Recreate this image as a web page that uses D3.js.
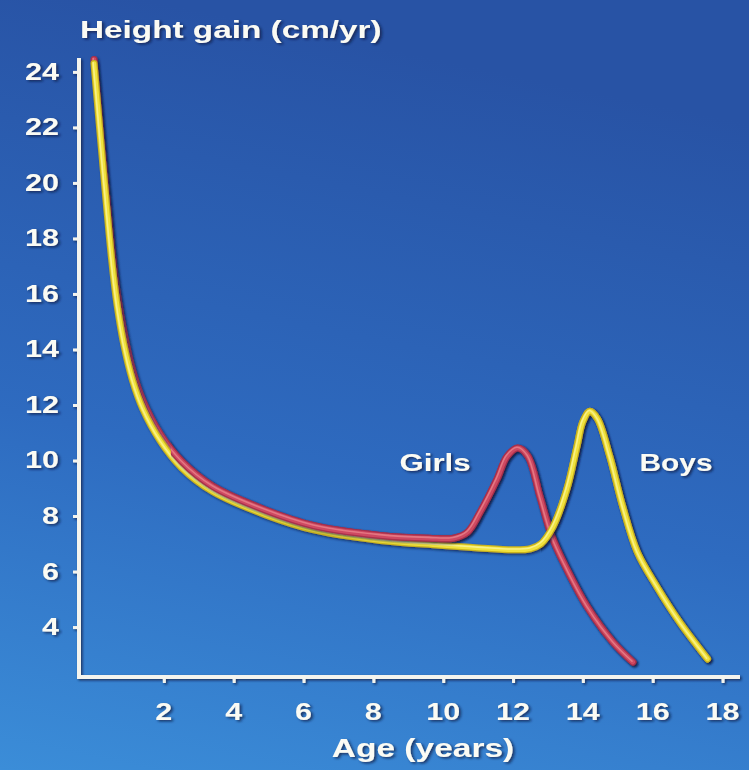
<!DOCTYPE html>
<html>
<head>
<meta charset="utf-8">
<script src="https://cdn.jsdelivr.net/npm/d3@7"></script>
<style>
html,body{margin:0;padding:0;background:#2f6cbf;}
svg{display:block;}
text{font-family:"Liberation Sans",Arial,Helvetica,sans-serif;font-weight:bold;fill:#fbfbf4;}
</style>
</head>
<body>
<svg id="chart" width="749" height="770"></svg>
<script>
// ---- data ----
const boysAge  = [0, 0.1, 0.2, 0.35, 0.5, 0.65, 0.85, 1.1, 1.4, 1.9, 2.5, 3.4, 4.9, 6.3, 8.2, 9.9, 11.0, 12.0, 12.5, 12.8, 13.14, 13.54, 13.83, 14.0, 14.2, 14.42, 14.77, 15.14, 15.56, 16.11, 16.77, 17.57];
const boysRate = [24.3, 22.85, 21.4, 19.3, 17.3, 15.7, 14.2, 12.9, 11.85, 10.7, 9.75, 8.88, 8.05, 7.5, 7.12, 6.95, 6.85, 6.78, 6.82, 7.0, 7.6, 8.96, 10.5, 11.4, 11.77, 11.5, 10.15, 8.35, 6.7, 5.47, 4.18, 2.85];
const girlsAge  = [0, 0.1, 0.2, 0.35, 0.5, 0.65, 0.85, 1.1, 1.4, 1.9, 2.5, 3.4, 4.9, 6.3, 8.2, 9.6, 10.3, 10.7, 11.06, 11.54, 11.83, 12.14, 12.43, 12.77, 13.11, 13.54, 14.11, 14.86, 15.43];
const girlsRate = [24.45, 23.1, 21.7, 19.7, 17.75, 16.15, 14.65, 13.25, 12.15, 10.95, 9.98, 9.07, 8.22, 7.65, 7.3, 7.2, 7.2, 7.42, 8.14, 9.32, 10.15, 10.45, 10.15, 8.71, 7.27, 6.09, 4.76, 3.46, 2.74];
const xTicks = [2, 4, 6, 8, 10, 12, 14, 16, 18];
const yTicks = [4, 6, 8, 10, 12, 14, 16, 18, 20, 22, 24];
const seriesNames = ["Girls", "Boys"];
const yTitle = "Height gain (cm/yr)";
const xTitle = "Age (years)";

const W = 749, H = 770;
const svg = d3.select("#chart");
const defs = svg.append("defs");

// background gradient
const bg = defs.append("linearGradient").attr("id","bg").attr("x1","0.2").attr("y1","0").attr("x2","0").attr("y2","1");
bg.append("stop").attr("offset","0%").attr("stop-color","#2853a5");
bg.append("stop").attr("offset","55%").attr("stop-color","#2e6bc0");
bg.append("stop").attr("offset","100%").attr("stop-color","#3b8dd8");
svg.append("rect").attr("width",W).attr("height",H).attr("fill","url(#bg)");

const sh = defs.append("filter").attr("id","shadow").attr("x","-20%").attr("y","-20%").attr("width","140%").attr("height","140%");
sh.append("feDropShadow").attr("dx",1.5).attr("dy",1.5).attr("stdDeviation",1).attr("flood-color","#0a1a40").attr("flood-opacity",0.75);

const x = d3.scaleLinear().domain([-0.43, 18.5]).range([79, 740]);
const y = d3.scaleLinear().domain([2.2, 24.5]).range([677, 58]);
const SX = 1.33; // horizontal stretch of the lettering

function stretchedText(g, txt, tx, ty, size, anchor, sx) {
  return g.append("text")
    .attr("transform", `translate(${tx},${ty}) scale(${sx||SX},1)`)
    .attr("text-anchor", anchor)
    .attr("font-size", size)
    .attr("filter","url(#shadow)")
    .text(txt);
}

// axes
const axG = svg.append("g").attr("filter","url(#shadow)");
const yAxis = d3.axisLeft(y).tickValues(yTicks).tickSize(6).tickFormat("");
const xAxis = d3.axisBottom(x).tickValues(xTicks).tickSize(6).tickFormat("");
const gy = axG.append("g").attr("transform","translate(79,0)").call(yAxis);
const gx = axG.append("g").attr("transform","translate(0,677)").call(xAxis);
[gy, gx].forEach(g => {
  g.select(".domain").remove();
  g.selectAll(".tick line").attr("stroke","#f4f4ee").attr("stroke-width",3);
});
axG.append("line").attr("x1",79).attr("x2",79).attr("y1",y.range()[1]).attr("y2",y.range()[0]+2)
  .attr("stroke","#f4f4ee").attr("stroke-width",4);
axG.append("line").attr("x1",77).attr("x2",x.range()[1]).attr("y1",677).attr("y2",677)
  .attr("stroke","#f4f4ee").attr("stroke-width",4);

// tick labels
const labG = svg.append("g");
yTicks.forEach(v => stretchedText(labG, v, 59, y(v) + 8, 23, "end"));
xTicks.forEach(v => stretchedText(labG, v, x(v), 720, 23, "middle"));
stretchedText(labG, yTitle, 80, 38, 24.5, "start", 1.36);
stretchedText(labG, xTitle, 423, 757, 25, "middle", 1.34);

// curves
const line = d3.line().x(d => x(d[0])).y(d => y(d[1])).curve(d3.curveCatmullRom.alpha(0.5));
const girls = girlsAge.map((a,i) => [a, girlsRate[i]]);
const boys = boysAge.map((a,i) => [a, boysRate[i]]);

function addClip(id, fromAge) {
  defs.append("clipPath").attr("id", id).append("rect")
    .attr("x", x(fromAge)).attr("y", 0).attr("width", W - x(fromAge)).attr("height", H);
}
addClip("fromGirlsChild", 2.2);
addClip("fromBoysSpurt", 12.8);

function tube(data, cols, clip) {
  const outer = svg.append("g");
  if (clip) outer.attr("clip-path", `url(#${clip})`);
  const g = outer.append("g").attr("filter","url(#shadow)");
  g.append("path").attr("d", line(data)).attr("fill","none").attr("stroke",cols[0])
    .attr("stroke-width",7).attr("stroke-linecap","round").attr("stroke-linejoin","round");
  g.append("path").attr("d", line(data)).attr("fill","none").attr("stroke",cols[1])
    .attr("stroke-width",4.5).attr("stroke-linecap","round").attr("stroke-linejoin","round");
  g.append("path").attr("d", line(data)).attr("fill","none").attr("stroke",cols[2])
    .attr("stroke-width",1.6).attr("stroke-linecap","round").attr("stroke-opacity",0.7)
    .attr("transform","translate(-0.8,-0.8)");
}
const boysCol = ["#c9b21e", "#f1e23c", "#fbf7a8"];
const girlsCol = ["#a8304c", "#cf4a62", "#ec8a92"];
// girls underneath in infancy, girls on top through childhood, boys' spurt on top
tube(girls, girlsCol);
tube(boys, boysCol);
tube(girls, girlsCol, "fromGirlsChild");
tube(boys, boysCol, "fromBoysSpurt");

// series labels
stretchedText(svg, seriesNames[0], 435, 471, 24, "middle", 1.3);
stretchedText(svg, seriesNames[1], 676, 471, 23, "middle", 1.3);
</script>
</body>
</html>
